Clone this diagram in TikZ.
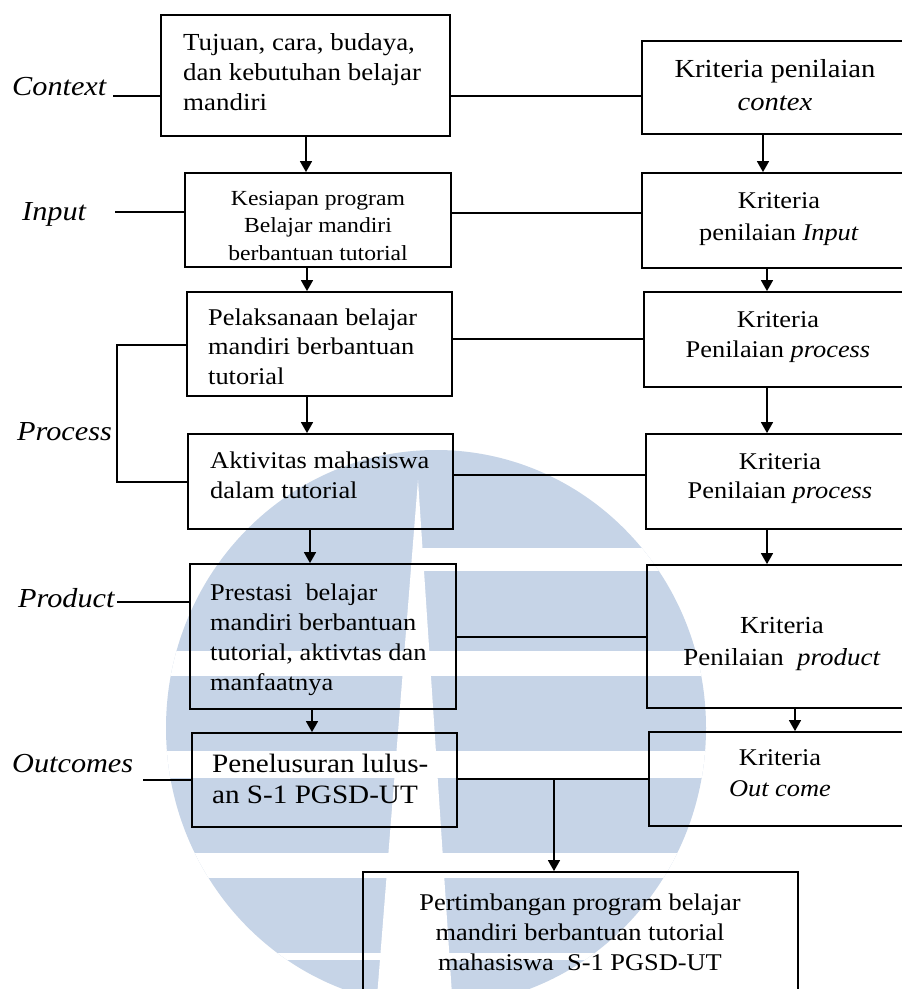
\documentclass[tikz,border=0pt]{standalone}
\usepackage{fontspec}
\setmainfont{Liberation Serif}[FakeStretch=1.1]
\usetikzlibrary{arrows.meta,fit}
\definecolor{wm}{RGB}{198,212,231}
\newcommand\tst{\rule{0pt}{0.9em}}
\begin{document}
\begin{tikzpicture}[x=1pt,y=-1pt,
  box/.style={draw, line width=1.8pt, inner sep=0pt},
  link/.style={line width=1.5pt},
  brk/.style={line width=1.1pt},
  arr/.style={line width=1.5pt, -{Triangle[length=11pt,width=12pt]}},
  txt/.style={inner sep=0pt, text=black},
  lbl/.style={inner sep=0pt, anchor=base west, font=\fontsize{27.5}{33}\selectfont\itshape},
  fa/.style={font=\fontsize{24}{#1}\selectfont},
]
\useasboundingbox (0,0) rectangle (902,989);
\clip (0,0) rectangle (902,989);
\fill[white] (0,0) rectangle (902,989);

% ---- watermark ----
\begin{scope}
  \clip (436,728) ellipse [x radius=270pt, y radius=278pt];
  \fill[wm] (100,400) rectangle (800,1020);
  \fill[white] (418,480) -- (453,1010) -- (376,1010) -- cycle;
  \fill[white] (418,548) rectangle (800,571);
  \fill[white] (100,651) rectangle (800,676);
  \fill[white] (100,751) rectangle (800,778);
  \fill[white] (100,853) rectangle (800,878);
  \fill[white] (100,953) rectangle (800,960);
\end{scope}

% ---- boxes ----
\node[box, fit={(161,15) (450,136)}] (ctx) {};
\node[box, fit={(185,173) (451,267)}] (inp) {};
\node[box, fit={(187,292) (452,396)}] (pel) {};
\node[box, fit={(188,434) (453,529)}] (akt) {};
\node[box, fit={(190,564) (456,709)}] (pre) {};
\node[box, fit={(192,733) (457,827)}] (pen) {};
\node[box, fit={(642,41) (912,134)}] (kctx) {};
\node[box, fit={(642,173) (912,268)}] (kinp) {};
\node[box, fit={(644,292) (912,387)}] (kpr1) {};
\node[box, fit={(646,434) (912,529)}] (kpr2) {};
\node[box, fit={(647,565) (912,708)}] (kprd) {};
\node[box, fit={(649,732) (912,826)}] (kout) {};
\node[box, fit={(363,872) (798,998)}] (pert) {};

% ---- texts ----
\node[txt, align=left, anchor=north west, font=\fontsize{24.5}{30}\selectfont] (ctxT) at (183,27.95)
  {\tst Tujuan, cara, budaya,\\dan kebutuhan belajar\\mandiri};
\node[txt, align=center, anchor=north, font=\fontsize{26}{33}\selectfont] (kctxT) at (775,53.6)
  {\tst Kriteria penilaian\\\textit{contex}};
\node[txt, align=center, anchor=north, font=\fontsize{21.5}{27.5}\selectfont] (inpT) at (318,185.65)
  {\tst Kesiapan program\\Belajar mandiri\\berbantuan tutorial};
\node[txt, align=center, anchor=north, fa=32] (kinpT) at (779,186.4)
  {\tst Kriteria\\penilaian \textit{Input}};
\node[txt, align=left, anchor=north west, fa=29.5] (pelT) at (208,303.4)
  {\tst Pelaksanaan belajar\\mandiri berbantuan\\tutorial};
\node[txt, align=center, anchor=north, fa=30] (kpr1T) at (778,305.4)
  {\tst Kriteria\\Penilaian \textit{process}};
\node[txt, align=left, anchor=north west, fa=30] (aktT) at (210,446.4)
  {\tst Aktivitas mahasiswa\\dalam tutorial};
\node[txt, align=center, anchor=north, fa=29] (kpr2T) at (780,447.4)
  {\tst Kriteria\\Penilaian \textit{process}};
\node[txt, align=left, anchor=north west, fa=30] (preT) at (210,578.4)
  {\tst Prestasi\ \ belajar\\mandiri berbantuan\\tutorial, aktivtas dan\\manfaatnya};
\node[txt, align=center, anchor=north, font=\fontsize{24.5}{32}\selectfont] (kprdT) at (782,610.95)
  {\tst Kriteria\\Penilaian\ \ \textit{product}};
\node[txt, align=left, anchor=north west, font=\fontsize{26.5}{31}\selectfont] (penT) at (212,748.15)
  {\tst Penelusuran lulus-\\an S-1 PGSD-UT};
\node[txt, align=center, anchor=north, fa=31] (koutT) at (780,743.4)
  {\tst Kriteria\\\textit{Out come}};
\node[txt, align=center, anchor=north, fa=30] (pertT) at (580,888.4)
  {\tst Pertimbangan program belajar\\mandiri berbantuan tutorial\\mahasiswa\ \ S-1 PGSD-UT};

% ---- side labels ----
\node[lbl] (lctx) at (12,95) {Context};
\node[lbl] (linp) at (22,220) {Input};
\node[lbl] (lpro) at (17,440) {Process};
\node[lbl] (lprd) at (18,607) {Product};
\node[lbl] (lout) at (12,772) {Outcomes};

% ---- named coordinates ----
\coordinate (ctxL) at (113,96);
\coordinate (inL) at (115,212);
\coordinate (pb1) at (117,345);
\coordinate (pb2) at (117,482);
\coordinate (prL) at (117,602);
\coordinate (ouL) at (143,780);
\coordinate (h1) at (0,96);
\coordinate (h2) at (0,213);
\coordinate (h3) at (0,339);
\coordinate (h4) at (0,475);
\coordinate (h5) at (0,637);
\coordinate (h6) at (0,779);
\coordinate (jn) at (554,779);
\coordinate (a1) at (306,0);
\coordinate (a2) at (307,0);
\coordinate (a3) at (310,0);
\coordinate (a4) at (312,0);
\coordinate (b1) at (763,0);
\coordinate (b2) at (767,0);
\coordinate (b3) at (795,0);

% ---- label connectors ----
\draw[link] (ctxL) -- (ctx.west |- ctxL);
\draw[link] (inL) -- (inp.west |- inL);
\draw[brk] (pel.west |- pb1) -- (pb1) -- (pb2) -- (akt.west |- pb2);
\draw[link] (prL) -- (pre.west |- prL);
\draw[link] (ouL) -- (pen.west |- ouL);

% ---- horizontal links ----
\draw[link] (ctx.east |- h1) -- (kctx.west |- h1);
\draw[link] (inp.east |- h2) -- (kinp.west |- h2);
\draw[link] (pel.east |- h3) -- (kpr1.west |- h3);
\draw[link] (akt.east |- h4) -- (kpr2.west |- h4);
\draw[link] (pre.east |- h5) -- (kprd.west |- h5);
\draw[link] (pen.east |- h6) -- (kout.west |- h6);

% ---- vertical arrows ----
\draw[arr] (a1 |- ctx.south) -- (a1 |- inp.north);
\draw[arr] (a2 |- inp.south) -- (a2 |- pel.north);
\draw[arr] (a2 |- pel.south) -- (a2 |- akt.north);
\draw[arr] (a3 |- akt.south) -- (a3 |- pre.north);
\draw[arr] (a4 |- pre.south) -- (a4 |- pen.north);
\draw[arr] (b1 |- kctx.south) -- (b1 |- kinp.north);
\draw[arr] (b2 |- kinp.south) -- (b2 |- kpr1.north);
\draw[arr] (b2 |- kpr1.south) -- (b2 |- kpr2.north);
\draw[arr] (b2 |- kpr2.south) -- (b2 |- kprd.north);
\draw[arr] (b3 |- kprd.south) -- (b3 |- kout.north);
\draw[arr] (jn) -- (jn |- pert.north);
\end{tikzpicture}
\end{document}
